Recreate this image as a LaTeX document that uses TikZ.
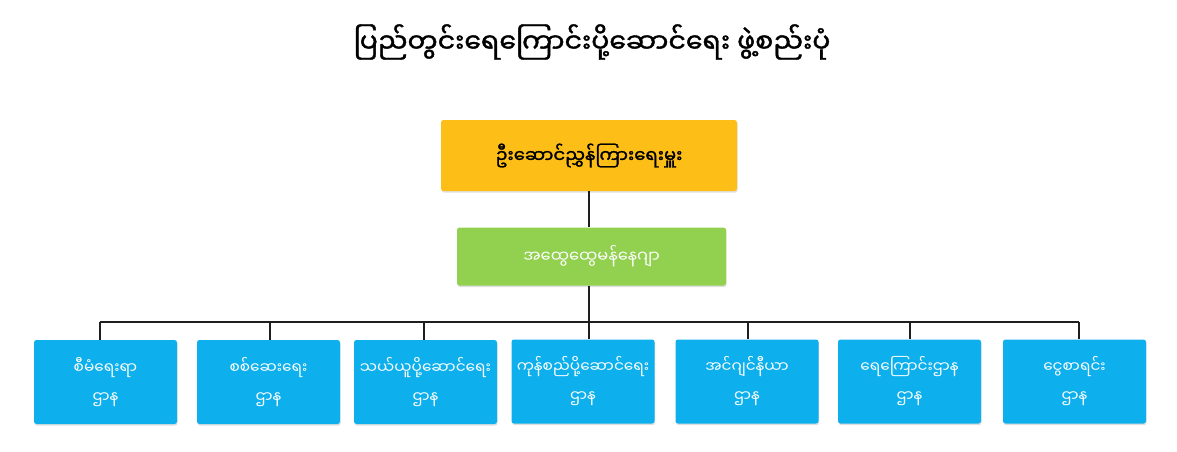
\documentclass[tikz,border=0pt]{standalone}
\usepackage{fontspec}
\newfontfamily\my[Script=Myanmar,AutoFakeBold=1.5]{Noto Sans Myanmar UI}
\usetikzlibrary{shadows}
\definecolor{amber}{HTML}{FDBF17}
\definecolor{leaf}{HTML}{92D050}
\definecolor{sky}{HTML}{0DB0EC}
\definecolor{ink}{HTML}{1E1E1E}
\tikzset{
  boxbase/.style={rectangle, rounded corners=2.5pt, inner sep=0pt, align=center,
    drop shadow={opacity=0.25, shadow xshift=0.6pt, shadow yshift=-1.6pt}},
  headbox/.style={boxbase, fill=amber, minimum width=296pt, minimum height=71pt,
    text=black, font=\my\bfseries\fontsize{18}{22}\selectfont},
  gmbox/.style={boxbase, fill=leaf, minimum width=269pt, minimum height=58pt,
    text=white, font=\my\fontsize{16.3}{20}\selectfont},
  deptbox/.style={boxbase, fill=sky, minimum width=143pt, minimum height=84pt,
    text=white, font=\my\fontsize{15.3}{29}\selectfont},
  titletext/.style={text=black, font=\my\bfseries\fontsize{26.8}{30}\selectfont},
  link/.style={draw=ink, line width=1.4pt}
}
\begin{document}
\begin{tikzpicture}[x=1pt,y=-1pt]
\useasboundingbox (0,0) rectangle (1177,452);
\node[titletext] (title) at (592,42) {ပြည်တွင်းရေကြောင်းပို့ဆောင်ရေး ဖွဲ့စည်းပုံ};
\node[headbox] (md) at (589,155.5) {ဦးဆောင်ညွှန်ကြားရေးမှူး};
\node[gmbox] (gm) at (591.5,256.5) {အထွေထွေမန်နေဂျာ};
\node[deptbox] (d1) at (105.5,382) {စီမံရေးရာ\\ဌာန};
\node[deptbox] (d2) at (268.5,382) {စစ်ဆေးရေး\\ဌာန};
\node[deptbox] (d3) at (425.5,382) {သယ်ယူပို့ဆောင်ရေး\\ဌာန};
\node[deptbox] (d4) at (583,381.5) {ကုန်စည်ပို့ဆောင်ရေး\\ဌာန};
\node[deptbox] (d5) at (747,381.5) {အင်ဂျင်နီယာ\\ဌာန};
\node[deptbox] (d6) at (909.5,381.5) {ရေကြောင်းဌာန\\ဌာန};
\node[deptbox] (d7) at (1074.5,381.5) {ငွေစာရင်း\\ဌာန};
\coordinate (s1) at (100,322);
\coordinate (s2) at (270,322);
\coordinate (s3) at (424,322);
\coordinate (s4) at (589,322);
\coordinate (s5) at (748,322);
\coordinate (s6) at (910,322);
\coordinate (s7) at (1079,322);
\draw[link] (md.south) -- (md.south |- gm.north);
\draw[link] (md.south |- gm.south) -- (md.south |- d4.north);
\draw[link] (s1) -- (s7);
\foreach \i in {1,2,3,5,6,7} {
  \draw[link] (s\i) -- (s\i |- d\i.north);
}
\end{tikzpicture}
\end{document}
